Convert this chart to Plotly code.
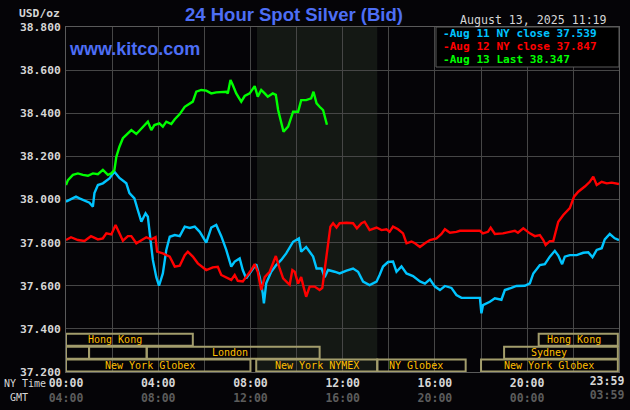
import plotly.graph_objects as go

# ---------------- data (minutes after NY midnight, price USD/oz) ----------------
aug11_t = [0, 13, 26, 35, 48, 61, 70, 74, 83, 96, 113, 126, 139, 157, 165, 178, 187, 196, 207, 213,
           217, 226, 235, 242, 252, 261, 270, 283, 296, 309, 322, 335, 348, 365, 378, 391, 404, 417,
           430, 439, 452, 460, 469, 478, 495, 504, 512, 515, 521, 534, 547, 560, 573, 591, 606, 612,
           625, 634, 643, 652, 665, 673, 682, 699, 712, 730, 747, 760, 773, 790, 808, 816, 825, 838,
           851, 860, 873, 886, 903, 921, 934, 947, 960, 973, 986, 1003, 1016, 1029, 1077, 1081, 1085,
           1103, 1116, 1133, 1142, 1159, 1172, 1194, 1207, 1216, 1233, 1246, 1259, 1272, 1281, 1291,
           1298, 1311, 1329, 1346, 1359, 1370, 1381, 1394, 1402, 1415, 1428, 1439]
aug11_v = [37.990, 38.000, 38.013, 38.005, 37.995, 37.985, 37.967, 38.030, 38.067, 38.075, 38.098,
           38.129, 38.100, 38.075, 38.030, 38.005, 37.950, 37.897, 37.936, 37.920, 37.858, 37.720,
           37.640, 37.600, 37.657, 37.766, 37.827, 37.835, 37.830, 37.874, 37.868, 37.874, 37.850,
           37.800, 37.870, 37.882, 37.830, 37.766, 37.689, 37.712, 37.727, 37.673, 37.634, 37.657,
           37.700, 37.640, 37.565, 37.518, 37.611, 37.665, 37.696, 37.720, 37.750, 37.804, 37.820,
           37.758, 37.780, 37.758, 37.735, 37.680, 37.680, 37.640, 37.673, 37.665, 37.657, 37.670,
           37.680, 37.665, 37.619, 37.603, 37.619, 37.650, 37.689, 37.710, 37.712, 37.665, 37.690,
           37.657, 37.645, 37.620, 37.610, 37.630, 37.596, 37.580, 37.599, 37.590, 37.557, 37.544,
           37.544, 37.472, 37.510, 37.526, 37.542, 37.535, 37.580, 37.590, 37.599, 37.600, 37.611,
           37.657, 37.696, 37.700, 37.735, 37.762, 37.740, 37.700, 37.735, 37.742, 37.742, 37.753,
           37.755, 37.732, 37.766, 37.774, 37.815, 37.840, 37.820, 37.812]

aug12_t = [0, 13, 31, 48, 65, 83, 96, 105, 118, 129, 139, 148, 161, 170, 183, 196, 209, 222, 233,
           237, 252, 270, 283, 296, 309, 317, 330, 343, 365, 382, 395, 404, 417, 430, 439, 447, 460,
           469, 482, 491, 499, 508, 517, 530, 538, 546, 556, 565, 578, 582, 589, 595, 604, 612, 618,
           625, 634, 647, 660, 667, 673, 682, 688, 695, 704, 712, 730, 747, 757, 769, 777, 790, 808,
           821, 834, 842, 851, 864, 877, 886, 899, 908, 921, 934, 947, 964, 977, 986, 999, 1016, 1025,
           1077, 1085, 1098, 1105, 1116, 1137, 1155, 1168, 1176, 1190, 1207, 1220, 1233, 1242, 1248,
           1259, 1268, 1275, 1281, 1294, 1302, 1311, 1322, 1333, 1350, 1363, 1372, 1381, 1394, 1407,
           1420, 1439]
aug12_v = [37.812, 37.825, 37.812, 37.808, 37.830, 37.815, 37.820, 37.843, 37.838, 37.882, 37.843,
           37.809, 37.830, 37.830, 37.797, 37.812, 37.825, 37.815, 37.825, 37.758, 37.750, 37.735,
           37.689, 37.693, 37.742, 37.758, 37.735, 37.704, 37.673, 37.685, 37.688, 37.650, 37.640,
           37.627, 37.650, 37.623, 37.620, 37.640, 37.673, 37.700, 37.665, 37.580, 37.640, 37.665,
           37.704, 37.738, 37.680, 37.634, 37.611, 37.605, 37.673, 37.665, 37.610, 37.640, 37.596,
           37.549, 37.596, 37.596, 37.580, 37.590, 37.673, 37.797, 37.874, 37.890, 37.870, 37.890,
           37.892, 37.890, 37.866, 37.890, 37.897, 37.858, 37.870, 37.858, 37.862, 37.850, 37.874,
           37.862, 37.843, 37.797, 37.805, 37.797, 37.780, 37.797, 37.812, 37.820, 37.840, 37.862,
           37.846, 37.850, 37.855, 37.855, 37.843, 37.850, 37.869, 37.840, 37.843, 37.850, 37.855,
           37.846, 37.866, 37.843, 37.830, 37.835, 37.812, 37.789, 37.807, 37.807, 37.850, 37.897,
           37.928, 37.943, 37.960, 38.013, 38.036, 38.060, 38.082, 38.106, 38.067, 38.082, 38.075,
           38.078, 38.072]

aug13_t = [0, 5, 18, 31, 44, 57, 70, 83, 96, 109, 118, 126, 131, 139, 148, 157, 170, 183, 196, 204,
           213, 222, 230, 243, 252, 261, 274, 283, 296, 309, 322, 330, 339, 352, 365, 378, 391, 404,
           417, 421, 428, 434, 443, 456, 465, 478, 486, 491, 499, 508, 517, 525, 538, 546, 552, 560,
           566, 578, 591, 604, 612, 625, 638, 644, 652, 660, 669, 679]
aug13_v = [38.067, 38.090, 38.114, 38.121, 38.114, 38.110, 38.121, 38.117, 38.137, 38.114, 38.121,
           38.137, 38.198, 38.245, 38.284, 38.300, 38.322, 38.304, 38.330, 38.345, 38.361, 38.322,
           38.345, 38.353, 38.338, 38.361, 38.350, 38.372, 38.396, 38.430, 38.446, 38.454, 38.500,
           38.508, 38.505, 38.492, 38.497, 38.500, 38.500, 38.492, 38.554, 38.531, 38.492, 38.454,
           38.480, 38.492, 38.516, 38.526, 38.477, 38.508, 38.492, 38.477, 38.492, 38.485, 38.415,
           38.353, 38.314, 38.338, 38.407, 38.407, 38.461, 38.461, 38.469, 38.500, 38.446, 38.430,
           38.415, 38.347]

series_names = ["Aug 11 NY close 37.539", "Aug 12 NY close 37.847", "Aug 13 Last 38.347"]
series_colors = ["#00c4ff", "#ff0000", "#00ff00"]

tick_minutes = [0, 120, 240, 360, 480, 600, 720, 840, 960, 1080, 1200, 1320, 1439]
ny_labels = ["00:00", "", "04:00", "", "08:00", "", "12:00", "", "16:00", "", "20:00", "", "23:59"]
gmt_labels = ["04:00", "", "08:00", "", "12:00", "", "16:00", "", "20:00", "", "00:00", "", "03:59"]

y_ticks = [37.2, 37.4, 37.6, 37.8, 38.0, 38.2, 38.4, 38.6, 38.8]

# market session boxes: (row, start minute, end minute)
session_boxes = [(1, 0, 330), (1, 1230, 1436),
                 (2, 0, 60), (2, 60, 210), (2, 210, 660), (2, 1140, 1436),
                 (3, 0, 480), (3, 495, 810), (3, 810, 1040), (3, 1080, 1436)]
# session labels: (row, centre minute, text)
session_labels = [(1, 127, "Hong Kong"), (1, 1322, "Hong Kong"),
                  (2, 428, "London"), (2, 1258, "Sydney"),
                  (3, 218, "New York Globex"), (3, 652, "New York NYMEX"),
                  (3, 910, "NY Globex"), (3, 1257, "New York Globex")]
nymex_shade = (497, 810)

# ---------------- styling ----------------
BG = "#050407"
GRID = "#464646"
FRAME = "#5a5a5a"
TXT = "#d6d6d6"
GMT_C = "#5c5c5c"
BLUE = "#4d6ef5"
BOX = "#a39d6c"
LAB = "#ffbf00"
MONO = "DejaVu Sans Mono"
SANS = "Liberation Sans"

W, H = 630, 410
L, R, T, B = 66, 11, 27, 38
PW, PH = W - L - R, H - T - B


def px(xp):
    return (xp - L) / PW


def py(yp):
    return (H - B - yp) / PH


fig = go.Figure()
for t, v, c in [(aug11_t, aug11_v, series_colors[0]),
                (aug12_t, aug12_v, series_colors[1]),
                (aug13_t, aug13_v, series_colors[2])]:
    fig.add_trace(go.Scatter(x=t, y=v, mode="lines", line=dict(color=c, width=2.4),
                             hoverinfo="skip", showlegend=False))


def tick_label(ny, gm):
    return f"{ny}<br><span style='color:{GMT_C}'>{gm}</span>" if ny else ""


main_text = [tick_label(n, g) for n, g in zip(ny_labels[:-1], gmt_labels[:-1])] + [""]
last_text = [tick_label(ny_labels[-1], gmt_labels[-1])]

tickfont_x = dict(family=MONO, size=11.5, color=TXT, weight="bold")
fig.update_layout(
    xaxis=dict(range=[0, 1439], tickmode="array", tickvals=tick_minutes, ticktext=main_text,
               showgrid=True, gridcolor=GRID, gridwidth=1, zeroline=False,
               showline=True, linecolor=FRAME, linewidth=1, mirror=True, ticks="",
               automargin=False, ticklabeloverflow="allow", tickfont=tickfont_x),
    # second x axis only carries the end-of-day label, shifted inside the page
    xaxis2=dict(range=[0, 1439], overlaying="x", side="bottom", anchor="y", tickmode="array",
                tickvals=[tick_minutes[-1]], ticktext=last_text, ticklabelshift=-12,
                showgrid=False, zeroline=False, showline=False, ticks="",
                automargin=False, ticklabeloverflow="allow", tickfont=tickfont_x),
    yaxis=dict(range=[37.2, 38.8], tickmode="array", tickvals=y_ticks,
               ticktext=[f"{v:.3f}" for v in y_ticks],
               showgrid=True, gridcolor=GRID, gridwidth=1, zeroline=False,
               showline=True, linecolor=FRAME, linewidth=1, mirror=True, ticks="",
               ticklabelstandoff=2, automargin=False, ticklabeloverflow="allow",
               tickfont=dict(family=MONO, size=11.3, color=TXT, weight="bold")),
)
# invisible helper trace so the second x axis is drawn
fig.add_trace(go.Scatter(x=[tick_minutes[-1]], y=[y_ticks[0]], xaxis="x2", yaxis="y",
                         mode="markers", marker=dict(opacity=0), hoverinfo="skip",
                         showlegend=False))

shapes = []
shapes.append(dict(type="rect", xref="x", yref="paper", x0=nymex_shade[0], x1=nymex_shade[1],
                   y0=0, y1=1, fillcolor="#141814", line=dict(width=0), layer="below"))
row_h = 0.0597
for row, s, e in session_boxes:
    top = 37.2 + (4 - row) * row_h
    shapes.append(dict(type="rect", xref="x", yref="y", x0=s, x1=e,
                       y0=top - row_h + 0.002, y1=top - 0.002,
                       line=dict(color=BOX, width=2), fillcolor="rgba(0,0,0,0)", layer="between"))
# legend panel
shapes.append(dict(type="rect", xref="paper", yref="paper", x0=px(436), x1=1, y0=py(67), y1=1,
                   fillcolor="#000000", line=dict(color=FRAME, width=1), layer="above"))

ann = []
for row, c, text in session_labels:
    yc = 37.2 + (4 - row) * row_h - row_h / 2
    ann.append(dict(x=c, y=yc, xref="x", yref="y", text=text, showarrow=False,
                    font=dict(family=MONO, size=10, color=LAB), xanchor="center", yanchor="middle"))

ann.append(dict(x=px(294), y=py(15), xref="paper", yref="paper", text="24 Hour Spot Silver (Bid)",
                showarrow=False, font=dict(family=SANS, size=18.5, color=BLUE, weight="bold"),
                xanchor="center", yanchor="middle"))
ann.append(dict(x=px(67), y=py(49), xref="paper", yref="paper", text="www.kitco.com",
                showarrow=False, font=dict(family=SANS, size=18, color=BLUE, weight="bold"),
                xanchor="left", yanchor="middle"))
ann.append(dict(x=px(609), y=py(20), xref="paper", yref="paper", text="August 13, 2025 11:19",
                showarrow=False, font=dict(family=MONO, size=11.6, color=TXT),
                xanchor="right", yanchor="middle"))
ann.append(dict(x=px(62), y=py(13), xref="paper", yref="paper", text="USD/oz",
                showarrow=False, font=dict(family=MONO, size=11.3, color=TXT, weight="bold"),
                xanchor="right", yanchor="middle"))
ann.append(dict(x=px(2), y=py(383), xref="paper", yref="paper", text="NY Time",
                showarrow=False, font=dict(family=MONO, size=10, color=TXT),
                xanchor="left", yanchor="middle"))
ann.append(dict(x=px(19), y=py(397), xref="paper", yref="paper", text="GMT",
                showarrow=False, font=dict(family=MONO, size=10, color=TXT),
                xanchor="center", yanchor="middle"))
for i, (name, col) in enumerate(zip(series_names, series_colors)):
    ann.append(dict(x=px(441), y=py(34 + i * 12.7), xref="paper", yref="paper", text="-" + name,
                    showarrow=False, font=dict(family=MONO, size=11.1, color=col, weight="bold"),
                    xanchor="left", yanchor="middle"))

fig.update_layout(width=W, height=H, margin=dict(l=L, r=R, t=T, b=B, autoexpand=False),
                  paper_bgcolor=BG, plot_bgcolor=BG, shapes=shapes, annotations=ann,
                  showlegend=False)

fig.write_html("out.html")
